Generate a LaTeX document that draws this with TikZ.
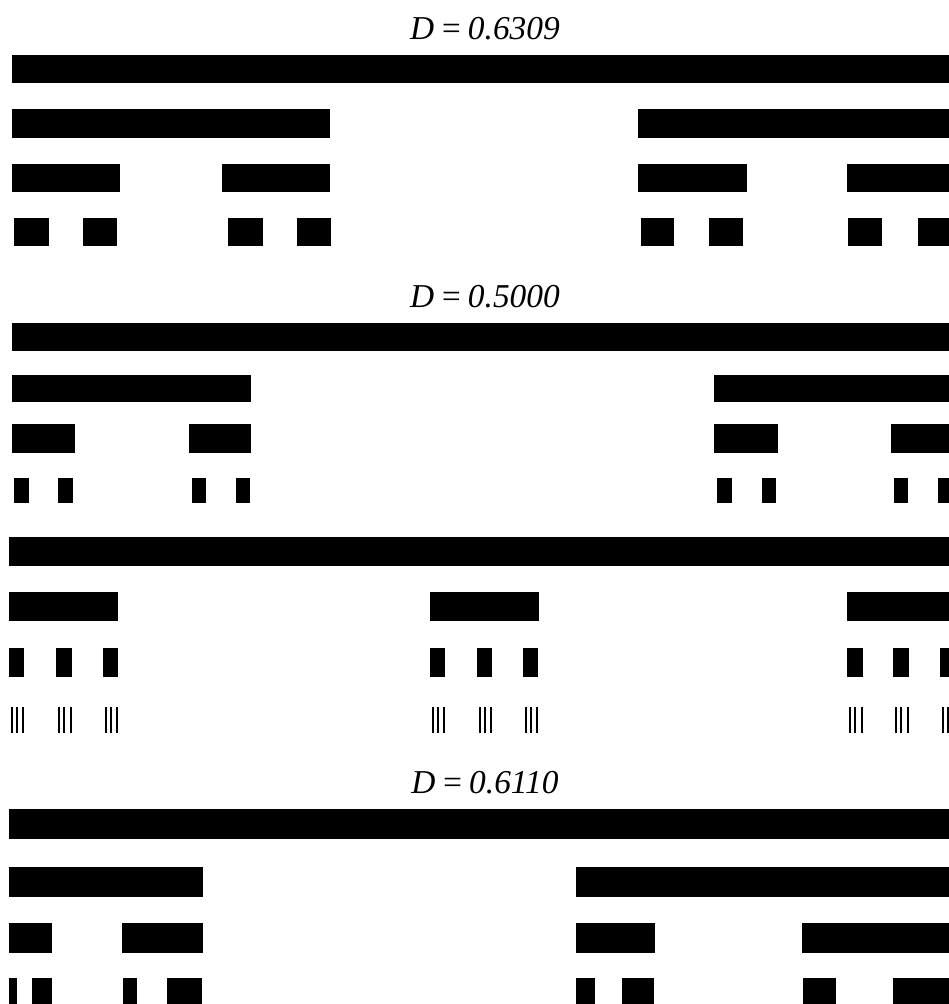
\documentclass[tikz,border=0pt]{standalone}
\usepackage{fontspec}
\setmainfont{Liberation Serif}
\usepackage{tikz}
\usetikzlibrary{positioning}

\begin{document}
\begin{tikzpicture}[x=0.02cm, y=-0.02cm,
    bar/.style={fill=black},
    hair/.style={fill=black},
    dlabel/.style={font=\fontsize{19}{22}\selectfont\itshape, anchor=base, inner sep=0pt}]
    \useasboundingbox (0,0) rectangle (949,1004);
    \fill[white] (0,0) rectangle (949,1004);
    \clip (0,0) rectangle (949,1004);

    % First set, ratio 1/3
    \node[dlabel] (t1) at (485,39) {D\,=\,0.6309};
    \fill[bar] (12,55) rectangle (949,83);
    \foreach \a/\b in {12/330, 638/949}
        \fill[bar] (\a,109) rectangle (\b,138);
    \foreach \a/\b in {12/120, 222/330, 638/747, 847/949}
        \fill[bar] (\a,164) rectangle (\b,192);
    \foreach \a/\b in {14/49, 83/117, 228/263, 297/331, 641/674, 709/743, 848/882, 918/949}
        \fill[bar] (\a,218) rectangle (\b,246);

    % Second set, two pieces of 1/4
    \node[dlabel] (t2) at (485,307) {D\,=\,0.5000};
    \fill[bar] (12,323) rectangle (949,351);
    \foreach \a/\b in {12/251, 714/949}
        \fill[bar] (\a,375) rectangle (\b,402);
    \foreach \a/\b in {12/75, 189/251, 714/778, 891/949}
        \fill[bar] (\a,424) rectangle (\b,453);
    \foreach \a/\b in {14/29, 58/73, 192/206, 236/250, 717/732, 762/776, 894/908, 938/949}
        \fill[bar] (\a,478) rectangle (\b,503);

    % Same dimension, three pieces of 1/9
    \fill[bar] (9,537) rectangle (949,566);
    \foreach \a/\b in {9/118, 430/539, 847/949}
        \fill[bar] (\a,592) rectangle (\b,621);
    \foreach \a/\b in {9/24, 56/72, 103/118, 430/445, 477/492, 523/538, 847/863, 893/909, 940/955}
        \fill[bar] (\a,648) rectangle (\b,677);
    \foreach \a/\b in {9/24, 56/72, 103/118, 430/445, 477/492, 523/538, 847/863, 893/909, 940/955} {
        \fill[hair] (\a+2,707) rectangle ++(2,26);
        \fill[hair] ({(\a+\b)/2-1},707) rectangle ++(2,26);
        \fill[hair] (\b-2,707) rectangle ++(2,26);
    }

    % Third set, pieces 0.2 and 0.4
    \node[dlabel] (t3) at (485,793) {D\,=\,0.6110};
    \fill[bar] (9,809) rectangle (949,839);
    \foreach \a/\b in {9/203, 576/949}
        \fill[bar] (\a,867) rectangle (\b,897);
    \foreach \a/\b in {9/52, 122/203, 576/655, 802/949}
        \fill[bar] (\a,923) rectangle (\b,953);
    \foreach \a/\b in {9/17, 32/52, 123/137, 167/202, 576/595, 622/654, 803/836, 893/949}
        \fill[bar] (\a,978) rectangle (\b,1010);

\end{tikzpicture}
\end{document}
